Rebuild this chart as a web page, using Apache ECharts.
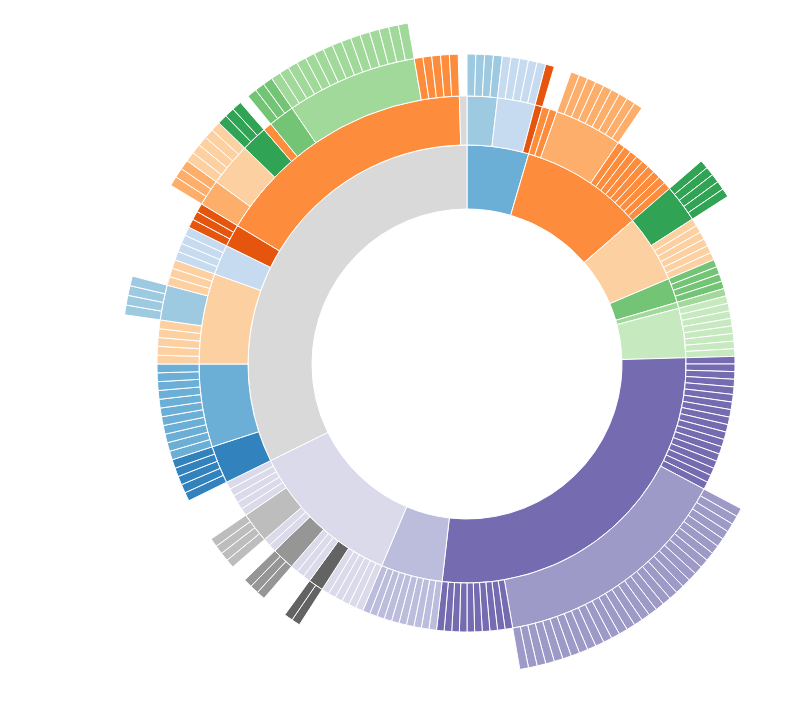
<!DOCTYPE html>
<html><head><meta charset="utf-8">
<script src="https://cdn.jsdelivr.net/npm/echarts@6/dist/echarts.min.js"></script>
<style>html,body{margin:0;padding:0;background:#fff}#c{width:810px;height:703px}</style>
</head><body><div id="c"></div>
<script>
// category20c palette, assigned by first-seen branch name
const palette = ['#3182bd','#6baed6','#9ecae1','#c6dbef','#e6550d','#fd8d3c','#fdae6b','#fdd0a2','#31a354','#74c476','#a1d99b','#c7e9c0','#756bb1','#9e9ac8','#bcbddc','#dadaeb','#636363','#969696','#bdbdbd','#d9d9d9'];

// flare hierarchy: string = leaf (value 1 = one class), [name, children] = package
const analytics = [['cluster',['AgglomerativeCluster','CommunityStructure','HierarchicalCluster','MergeEdge']],
  ['graph',['BetweennessCentrality','LinkDistance','MaxFlowMinCut','ShortestPaths','SpanningTree']],
  ['optimization',['AspectRatioBanker']]];
const animate = ['Easing','FunctionSequence',
  ['interpolate',['ArrayInterpolator','ColorInterpolator','DateInterpolator','Interpolator','MatrixInterpolator','NumberInterpolator','ObjectInterpolator','PointInterpolator','RectangleInterpolator']],
  'ISchedulable','Parallel','Pause','Scheduler','Sequence','Transition','Transitioner','TransitionEvent','Tween'];
const dataPkg = [['converters',['Converters','DelimitedTextConverter','GraphMLConverter','IDataConverter','JSONConverter']],
  'DataField','DataSchema','DataSet','DataSource','DataTable','DataUtil'];
const display = ['DirtySprite','LineSprite','RectSprite','TextSprite'];
const flex = ['FlareVis'];
const physics = ['DragForce','GravityForce','IForce','NBodyForce','Particle','Simulation','Spring','SpringForce'];
const methods = ['add','and','average','count','distinct','div','eq','fn','gt','gte','iff','isa','lt','lte','max','min','mod','mul','neq','not','or','orderby','range','select','stddev','sub','sum','update','variance','where','xor','_'];
const query = ['AggregateExpression','And','Arithmetic','Average','BinaryExpression','Comparison','CompositeExpression','Count','DateUtil','Distinct','Expression','ExpressionIterator','Fn','If','IsA','Literal','Match','Maximum',
  ['methods',methods],'Minimum','Not','Or','Query','Range','StringUtil','Sum','Variable','Variance','Xor'];
const scale = ['IScaleMap','LinearScale','LogScale','OrdinalScale','QuantileScale','QuantitativeScale','RootScale','Scale','ScaleType','TimeScale'];
const util = ['Arrays','Colors','Dates','Displays','Filter','Geometry',['heap',['FibonacciHeap','HeapNode']],'IEvaluable','IPredicate','IValueProxy',
  ['math',['DenseMatrix','IMatrix','SparseMatrix']],'Maths','Orientation',['palette',['ColorPalette','Palette','ShapePalette','SizePalette']],'Property','Shapes','Sort','Stats','Strings'];
const vis = [['axis',['Axes','Axis','AxisGridLine','AxisLabel','CartesianAxes']],
  ['controls',['AnchorControl','ClickControl','Control','ControlList','DragControl','ExpandControl','HoverControl','IControl','PanZoomControl','SelectionControl','TooltipControl']],
  ['data',['Data','DataList','DataSprite','EdgeSprite','NodeSprite',['render',['ArrowType','EdgeRenderer','IRenderer','ShapeRenderer']],'ScaleBinding','Tree','TreeBuilder']],
  ['events',['DataEvent','SelectionEvent','TooltipEvent','VisualizationEvent']],
  ['legend',['Legend','LegendItem','LegendRange']],
  ['operator',[['distortion',['BifocalDistortion','Distortion','FisheyeDistortion']],
    ['encoder',['ColorEncoder','Encoder','PropertyEncoder','ShapeEncoder','SizeEncoder']],
    ['filter',['FisheyeTreeFilter','GraphDistanceFilter','VisibilityFilter']],'IOperator',
    ['label',['Labeler','RadialLabeler','StackedAreaLabeler']],
    ['layout',['AxisLayout','BundledEdgeRouter','CircleLayout','CirclePackingLayout','DendrogramLayout','ForceDirectedLayout','IcicleTreeLayout','IndentedTreeLayout','Layout','NodeLinkTreeLayout','PieLayout','RadialTreeLayout','RandomLayout','StackedAreaLayout','TreeMapLayout']],
    'Operator','OperatorList','OperatorSequence','OperatorSwitch','SortOperator']],
  'Visualization'];
const flare = ['flare',[['analytics',analytics],['animate',animate],['data',dataPkg],['display',display],['flex',flex],['physics',physics],['query',query],['scale',scale],['util',util],['vis',vis]]];

const colorMap = {}; let ci = 0;
function colorOf(name){ if(!(name in colorMap)){ colorMap[name]=palette[ci%20]; ci++; } return colorMap[name]; }
colorOf('flare');
function build(node, parentName){
  if(typeof node === 'string'){
    return {name:node, value:1, itemStyle:{color:colorOf(parentName)}};
  }
  const c = colorOf(node[0]);
  return {name:node[0], itemStyle:{color:c}, children:node[1].map(ch=>build(ch,node[0]))};
}
const roots = flare[1].map(n=>build(n,'flare'));

const chart = echarts.init(document.getElementById('c'));
chart.setOption({
  animation:false,
  series:[{
    type:'sunburst',
    center:[467,364],
    radius:[155,346],
    sort:null,
    startAngle:90,
    clockwise:true,
    nodeClick:false,
    data:roots,
    label:{show:false},
    emphasis:{disabled:true},
    itemStyle:{borderColor:'#fff',borderWidth:1},
    levels:[
      {},
      {r0:155,r:219},
      {r0:219,r:268},
      {r0:268,r:310},
      {r0:310,r:346}
    ]
  }]
});
</script></body></html>
